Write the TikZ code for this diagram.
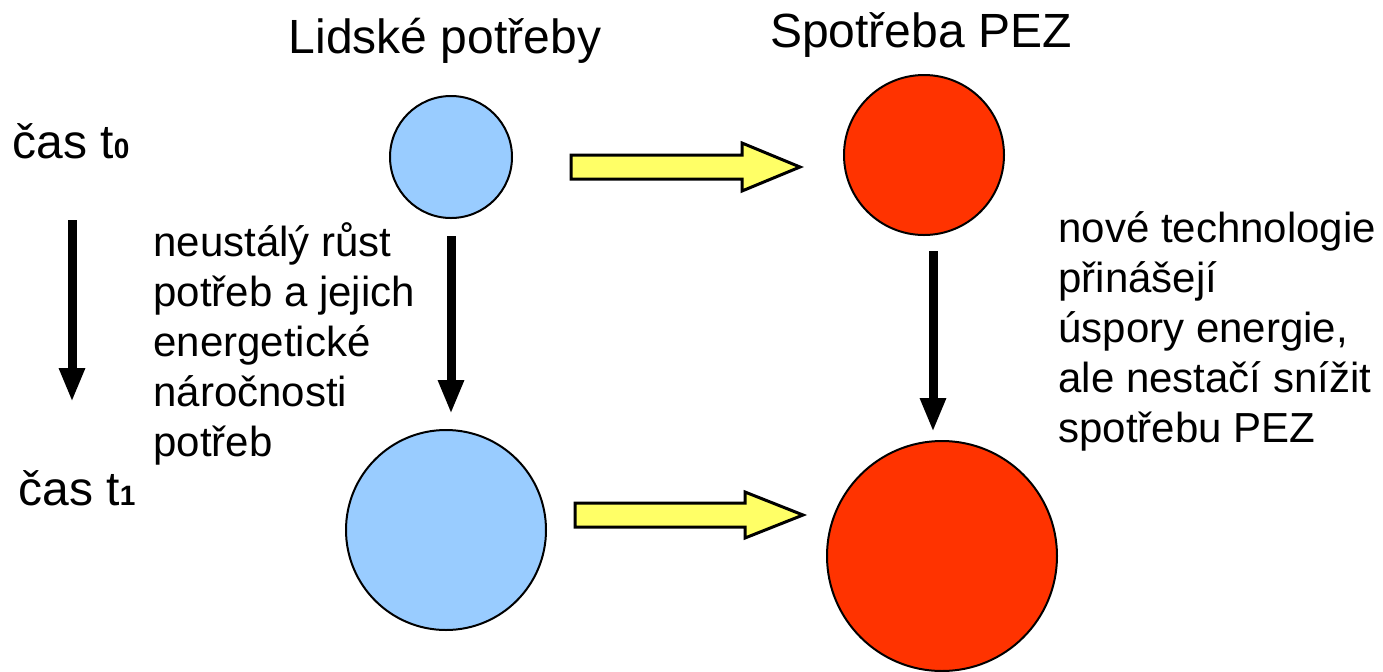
\documentclass[tikz,border=0pt]{standalone}
\usepackage{fontspec}
\setmainfont{Liberation Sans}
\usetikzlibrary{arrows.meta,calc}
\definecolor{needblue}{HTML}{99CCFF}
\definecolor{pezred}{HTML}{FF3300}
\definecolor{flowyellow}{HTML}{FFFF66}

\begin{document}
\begin{tikzpicture}[x=0.5pt,y=-0.5pt,
  bubble/.style={circle,draw=black,line width=1pt,inner sep=0pt},
  need/.style={bubble,fill=needblue},
  pez/.style={bubble,fill=pezred},
  flow/.style={fill=flowyellow,draw=black,line width=1.5pt,line join=miter},
  push/.style={line width=4.5pt,-{Triangle[length=17pt,width=12pt]}},
  heading/.style={font=\fontsize{24}{28}\selectfont,inner sep=0pt,anchor=base},
  timelabel/.style={font=\fontsize{24}{28}\selectfont,inner sep=0pt,anchor=base west},
  note/.style={font=\fontsize{21}{25}\selectfont,inner sep=0pt,anchor=base west},
  ]
\useasboundingbox (0,0) rectangle (1383,671);

% column headings
\node[heading] (hneed) at (445,53) {Lidské potřeby};
\node[heading] (hpez) at (921,47) {Spotřeba PEZ};

% time labels
\newcommand{\tsub}[1]{{\bfseries\fontsize{14}{16}\selectfont #1}}
\node[timelabel] (t0) at (12,158) {čas t\tsub{0}};
\node[timelabel] (t1) at (18,505) {čas t\tsub{1}};

% needs and primary energy consumption
\node[need,minimum size=61pt] (n0) at (451,157) {};
\node[need,minimum size=100pt] (n1) at (446,530) {};
\node[pez,minimum size=80pt] (p0) at (924,155) {};
\node[pez,minimum size=115pt] (p1) at (942,556) {};

% time axis
\coordinate (ta) at (72,220);
\coordinate (tb) at (72,402);
\draw[push] (ta) -- (tb);

% growth of needs
\draw[push,shorten <=8.5pt,shorten >=7.5pt] (n0.south) -- (n0.south |- n1.north);

% consumption over time
\coordinate (ra) at (933,251);
\coordinate (rb) at (933,432);
\draw[push] (ra) -- (rb);

% needs drive consumption
\coordinate (ya0) at (571,167);
\coordinate (yb0) at (800,167);
\draw[flow] ($(ya0)+(0,-12)$) -- ($(yb0)+(-58,-12)$) -- ($(yb0)+(-58,-24)$)
  -- (yb0) -- ($(yb0)+(-58,24)$) -- ($(yb0)+(-58,12)$) -- ($(ya0)+(0,12)$) -- cycle;
\coordinate (ya1) at (575,515);
\coordinate (yb1) at (803,515);
\draw[flow] ($(ya1)+(0,-12)$) -- ($(yb1)+(-58,-12)$) -- ($(yb1)+(-58,-23)$)
  -- (yb1) -- ($(yb1)+(-58,23)$) -- ($(yb1)+(-58,12)$) -- ($(ya1)+(0,12)$) -- cycle;

% explanatory notes
\node[note] (growth) at (153,256) {\begin{tabular}[t]{@{}l@{}}
  neustálý růst\\ potřeb a jejich\\ energetické\\ náročnosti\\ potřeb\end{tabular}};
\node[note] (saving) at (1058,242) {\begin{tabular}[t]{@{}l@{}}
  nové technologie\\ přinášejí\\ úspory energie,\\ ale nestačí snížit\\ spotřebu PEZ\end{tabular}};
\end{tikzpicture}
\end{document}
